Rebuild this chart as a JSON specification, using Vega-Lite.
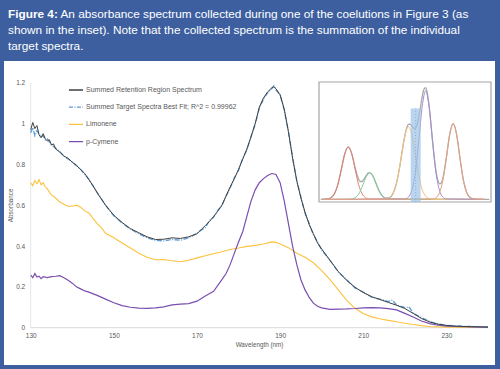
{
  "$schema": "https://vega.github.io/schema/vega-lite/v6.json",
  "width": 491,
  "height": 304,
  "autosize": {"type": "none"},
  "padding": {"left": 4, "top": 61, "right": 5, "bottom": 4},
  "background": "#3d5f9f",
  "config": {
    "view": {"fill": "#ffffff", "stroke": null},
    "font": "Liberation Sans",
    "legend": {
      "orient": "none", "legendX": 64, "legendY": 21, "title": null,
      "symbolType": "stroke", "symbolSize": 200, "symbolStrokeWidth": 1.3,
      "labelFontSize": 7, "labelColor": "#595959", "labelFont": "Liberation Sans",
      "rowPadding": 6.2, "labelOffset": 2, "padding": 0
    }
  },
  "title": {
    "text": "Figure 4:",
    "subtitle": [
      "\u200b\u00a0\u00a0\u00a0\u00a0\u00a0\u00a0\u00a0\u00a0\u00a0\u00a0\u00a0\u00a0\u00a0\u00a0\u00a0\u00a0An absorbance spectrum collected during one of the coelutions in Figure 3 (as",
      "shown in the inset). Note that the collected spectrum is the summation of the individual",
      "target spectra."
    ],
    "anchor": "start", "frame": "group", "orient": "top",
    "color": "#ffffff", "subtitleColor": "#ffffff",
    "font": "Liberation Sans",
    "subtitleFont": "Liberation Sans",
    "fontSize": 11.8, "subtitleFontSize": 11.8,
    "fontWeight": "bold", "subtitleFontWeight": "normal",
    "subtitleLineHeight": 16, "subtitlePadding": -11.8,
    "offset": 8, "dx": 4
  },
  "datasets": {
    "retention": [
      {"nm":130,"abs":0.97},{"nm":130.5,"abs":1.005},{"nm":131,"abs":0.975},{"nm":131.5,"abs":0.99},{"nm":132,"abs":0.945},{"nm":132.5,"abs":0.93},{"nm":133,"abs":0.95},{"nm":133.5,"abs":0.925},{"nm":134,"abs":0.915},{"nm":134.5,"abs":0.92},{"nm":135,"abs":0.895},{"nm":135.5,"abs":0.9},{"nm":136,"abs":0.875},{"nm":137,"abs":0.86},{"nm":138,"abs":0.84},{"nm":139,"abs":0.83},{"nm":140,"abs":0.81},{"nm":141,"abs":0.795},{"nm":142,"abs":0.775},{"nm":143,"abs":0.755},{"nm":144,"abs":0.725},{"nm":145,"abs":0.695},{"nm":146,"abs":0.66},{"nm":147,"abs":0.63},{"nm":148,"abs":0.6},{"nm":149,"abs":0.575},{"nm":150,"abs":0.55},{"nm":152,"abs":0.515},{"nm":154,"abs":0.485},{"nm":156,"abs":0.465},{"nm":158,"abs":0.445},{"nm":160,"abs":0.432},{"nm":162,"abs":0.433},{"nm":164,"abs":0.44},{"nm":166,"abs":0.437},{"nm":168,"abs":0.445},{"nm":170,"abs":0.46},{"nm":171,"abs":0.48},{"nm":172,"abs":0.5},{"nm":173,"abs":0.52},{"nm":174,"abs":0.545},{"nm":175,"abs":0.57},{"nm":176,"abs":0.6},{"nm":177,"abs":0.645},{"nm":178,"abs":0.69},{"nm":179,"abs":0.73},{"nm":180,"abs":0.775},{"nm":181,"abs":0.825},{"nm":182,"abs":0.875},{"nm":183,"abs":0.935},{"nm":184,"abs":1.0},{"nm":185,"abs":1.08},{"nm":186,"abs":1.125},{"nm":187,"abs":1.155},{"nm":188,"abs":1.175},{"nm":188.5,"abs":1.18},{"nm":189,"abs":1.17},{"nm":190,"abs":1.14},{"nm":191,"abs":1.07},{"nm":192,"abs":0.96},{"nm":193,"abs":0.83},{"nm":194,"abs":0.72},{"nm":195,"abs":0.635},{"nm":196,"abs":0.565},{"nm":197,"abs":0.505},{"nm":198,"abs":0.46},{"nm":199,"abs":0.415},{"nm":200,"abs":0.385},{"nm":202,"abs":0.33},{"nm":204,"abs":0.275},{"nm":206,"abs":0.232},{"nm":208,"abs":0.198},{"nm":210,"abs":0.172},{"nm":212,"abs":0.152},{"nm":214,"abs":0.138},{"nm":216,"abs":0.124},{"nm":218,"abs":0.11},{"nm":220,"abs":0.094},{"nm":222,"abs":0.07},{"nm":224,"abs":0.045},{"nm":226,"abs":0.028},{"nm":228,"abs":0.017},{"nm":230,"abs":0.011},{"nm":232,"abs":0.008},{"nm":234,"abs":0.006},{"nm":236,"abs":0.005},{"nm":238,"abs":0.004},{"nm":240,"abs":0.003}
    ],
    "fit": [
      {"nm":130,"abs":0.955},{"nm":130.5,"abs":0.98},{"nm":131,"abs":0.94},{"nm":131.5,"abs":0.965},{"nm":132,"abs":0.95},{"nm":132.5,"abs":0.935},{"nm":133,"abs":0.94},{"nm":133.5,"abs":0.92},{"nm":134,"abs":0.925},{"nm":135,"abs":0.895},{"nm":136,"abs":0.88},{"nm":137,"abs":0.862},{"nm":138,"abs":0.84},{"nm":140,"abs":0.812},{"nm":142,"abs":0.775},{"nm":144,"abs":0.727},{"nm":146,"abs":0.662},{"nm":148,"abs":0.6},{"nm":150,"abs":0.548},{"nm":152,"abs":0.512},{"nm":154,"abs":0.483},{"nm":156,"abs":0.46},{"nm":158,"abs":0.44},{"nm":160,"abs":0.428},{"nm":162,"abs":0.425},{"nm":164,"abs":0.432},{"nm":166,"abs":0.428},{"nm":168,"abs":0.44},{"nm":170,"abs":0.462},{"nm":171,"abs":0.478},{"nm":172,"abs":0.49},{"nm":173,"abs":0.525},{"nm":174,"abs":0.54},{"nm":175,"abs":0.575},{"nm":176,"abs":0.598},{"nm":177,"abs":0.645},{"nm":178,"abs":0.685},{"nm":179,"abs":0.735},{"nm":180,"abs":0.77},{"nm":181,"abs":0.83},{"nm":182,"abs":0.87},{"nm":183,"abs":0.935},{"nm":184,"abs":0.995},{"nm":185,"abs":1.075},{"nm":186,"abs":1.12},{"nm":187,"abs":1.15},{"nm":188,"abs":1.17},{"nm":188.5,"abs":1.185},{"nm":189,"abs":1.165},{"nm":190,"abs":1.14},{"nm":191,"abs":1.065},{"nm":192,"abs":0.96},{"nm":193,"abs":0.835},{"nm":194,"abs":0.72},{"nm":195,"abs":0.64},{"nm":196,"abs":0.56},{"nm":197,"abs":0.51},{"nm":198,"abs":0.455},{"nm":199,"abs":0.42},{"nm":200,"abs":0.38},{"nm":202,"abs":0.33},{"nm":204,"abs":0.272},{"nm":206,"abs":0.235},{"nm":208,"abs":0.195},{"nm":210,"abs":0.175},{"nm":212,"abs":0.15},{"nm":214,"abs":0.14},{"nm":216,"abs":0.128},{"nm":217,"abs":0.135},{"nm":218,"abs":0.112},{"nm":220,"abs":0.098},{"nm":221,"abs":0.102},{"nm":222,"abs":0.072},{"nm":223,"abs":0.06},{"nm":224,"abs":0.05},{"nm":225,"abs":0.04},{"nm":226,"abs":0.03},{"nm":228,"abs":0.018},{"nm":230,"abs":0.012},{"nm":232,"abs":0.009},{"nm":234,"abs":0.007},{"nm":236,"abs":0.006},{"nm":238,"abs":0.005},{"nm":240,"abs":0.004}
    ],
    "limonene": [
      {"nm":130,"abs":0.71},{"nm":130.5,"abs":0.695},{"nm":131,"abs":0.72},{"nm":131.5,"abs":0.705},{"nm":132,"abs":0.725},{"nm":132.5,"abs":0.7},{"nm":133,"abs":0.71},{"nm":133.5,"abs":0.69},{"nm":134,"abs":0.68},{"nm":135,"abs":0.65},{"nm":136,"abs":0.635},{"nm":137,"abs":0.615},{"nm":138,"abs":0.605},{"nm":139,"abs":0.595},{"nm":140,"abs":0.595},{"nm":141,"abs":0.6},{"nm":142,"abs":0.59},{"nm":143,"abs":0.572},{"nm":144,"abs":0.562},{"nm":145,"abs":0.535},{"nm":146,"abs":0.51},{"nm":147,"abs":0.49},{"nm":148,"abs":0.462},{"nm":150,"abs":0.44},{"nm":152,"abs":0.415},{"nm":154,"abs":0.39},{"nm":156,"abs":0.365},{"nm":158,"abs":0.345},{"nm":160,"abs":0.333},{"nm":162,"abs":0.334},{"nm":164,"abs":0.328},{"nm":166,"abs":0.323},{"nm":168,"abs":0.33},{"nm":170,"abs":0.342},{"nm":172,"abs":0.352},{"nm":174,"abs":0.362},{"nm":176,"abs":0.372},{"nm":178,"abs":0.383},{"nm":180,"abs":0.39},{"nm":182,"abs":0.398},{"nm":184,"abs":0.403},{"nm":186,"abs":0.41},{"nm":188,"abs":0.42},{"nm":189,"abs":0.418},{"nm":190,"abs":0.41},{"nm":192,"abs":0.392},{"nm":194,"abs":0.365},{"nm":196,"abs":0.345},{"nm":198,"abs":0.318},{"nm":200,"abs":0.28},{"nm":202,"abs":0.235},{"nm":204,"abs":0.185},{"nm":206,"abs":0.135},{"nm":208,"abs":0.095},{"nm":210,"abs":0.07},{"nm":212,"abs":0.053},{"nm":214,"abs":0.044},{"nm":216,"abs":0.036},{"nm":218,"abs":0.029},{"nm":220,"abs":0.022},{"nm":222,"abs":0.016},{"nm":224,"abs":0.01},{"nm":226,"abs":0.006},{"nm":228,"abs":0.004},{"nm":230,"abs":0.003},{"nm":235,"abs":0.002},{"nm":240,"abs":0.002}
    ],
    "cymene": [
      {"nm":130,"abs":0.258},{"nm":130.5,"abs":0.245},{"nm":131,"abs":0.265},{"nm":131.5,"abs":0.248},{"nm":132,"abs":0.252},{"nm":132.5,"abs":0.24},{"nm":133,"abs":0.25},{"nm":134,"abs":0.245},{"nm":135,"abs":0.25},{"nm":136,"abs":0.252},{"nm":137,"abs":0.255},{"nm":138,"abs":0.245},{"nm":139,"abs":0.232},{"nm":140,"abs":0.218},{"nm":141,"abs":0.2},{"nm":142,"abs":0.19},{"nm":143,"abs":0.18},{"nm":144,"abs":0.174},{"nm":146,"abs":0.158},{"nm":148,"abs":0.14},{"nm":150,"abs":0.122},{"nm":152,"abs":0.108},{"nm":154,"abs":0.1},{"nm":156,"abs":0.096},{"nm":158,"abs":0.095},{"nm":160,"abs":0.097},{"nm":162,"abs":0.102},{"nm":164,"abs":0.112},{"nm":166,"abs":0.115},{"nm":168,"abs":0.118},{"nm":170,"abs":0.13},{"nm":172,"abs":0.155},{"nm":174,"abs":0.178},{"nm":176,"abs":0.235},{"nm":177,"abs":0.265},{"nm":178,"abs":0.31},{"nm":179,"abs":0.365},{"nm":180,"abs":0.42},{"nm":181,"abs":0.47},{"nm":182,"abs":0.545},{"nm":183,"abs":0.62},{"nm":184,"abs":0.675},{"nm":185,"abs":0.71},{"nm":186,"abs":0.73},{"nm":187,"abs":0.745},{"nm":188,"abs":0.755},{"nm":189,"abs":0.75},{"nm":190,"abs":0.71},{"nm":191,"abs":0.62},{"nm":192,"abs":0.51},{"nm":193,"abs":0.4},{"nm":194,"abs":0.31},{"nm":195,"abs":0.235},{"nm":196,"abs":0.185},{"nm":197,"abs":0.148},{"nm":198,"abs":0.12},{"nm":199,"abs":0.105},{"nm":200,"abs":0.097},{"nm":202,"abs":0.09},{"nm":204,"abs":0.091},{"nm":206,"abs":0.092},{"nm":208,"abs":0.094},{"nm":210,"abs":0.097},{"nm":212,"abs":0.098},{"nm":214,"abs":0.097},{"nm":216,"abs":0.093},{"nm":218,"abs":0.087},{"nm":220,"abs":0.07},{"nm":222,"abs":0.052},{"nm":224,"abs":0.033},{"nm":226,"abs":0.02},{"nm":228,"abs":0.012},{"nm":230,"abs":0.008},{"nm":232,"abs":0.006},{"nm":236,"abs":0.004},{"nm":240,"abs":0.003}
    ],
    "insetPeaks": [
      {"peak":"a","t":2,"s":0.022},{"peak":"a","t":5,"s":0.025},{"peak":"a","t":7,"s":0.036},{"peak":"a","t":9,"s":0.07},{"peak":"a","t":11,"s":0.147},{"peak":"a","t":13,"s":0.273},{"peak":"a","t":15,"s":0.402},{"peak":"a","t":17,"s":0.458},{"peak":"a","t":19,"s":0.402},{"peak":"a","t":21,"s":0.273},{"peak":"a","t":23,"s":0.147},{"peak":"a","t":25,"s":0.07},{"peak":"a","t":27,"s":0.036},{"peak":"a","t":29,"s":0.025},{"peak":"a","t":96,"s":0.022},
      {"peak":"b","t":2,"s":0.022},{"peak":"b","t":17.5,"s":0.023},{"peak":"b","t":19.5,"s":0.027},{"peak":"b","t":21.5,"s":0.041},{"peak":"b","t":23.5,"s":0.077},{"peak":"b","t":25.5,"s":0.142},{"peak":"b","t":27.5,"s":0.212},{"peak":"b","t":29.5,"s":0.244},{"peak":"b","t":31.5,"s":0.212},{"peak":"b","t":33.5,"s":0.142},{"peak":"b","t":35.5,"s":0.077},{"peak":"b","t":37.5,"s":0.041},{"peak":"b","t":39.5,"s":0.027},{"peak":"b","t":41.5,"s":0.023},{"peak":"b","t":96,"s":0.022},
      {"peak":"c","t":2,"s":0.022},{"peak":"c","t":38,"s":0.023},{"peak":"c","t":40,"s":0.029},{"peak":"c","t":42,"s":0.049},{"peak":"c","t":44,"s":0.104},{"peak":"c","t":46,"s":0.219},{"peak":"c","t":48,"s":0.39},{"peak":"c","t":50,"s":0.557},{"peak":"c","t":52,"s":0.628},{"peak":"c","t":54,"s":0.557},{"peak":"c","t":56,"s":0.39},{"peak":"c","t":58,"s":0.219},{"peak":"c","t":60,"s":0.104},{"peak":"c","t":62,"s":0.049},{"peak":"c","t":64,"s":0.029},{"peak":"c","t":66,"s":0.023},{"peak":"c","t":96,"s":0.022},
      {"peak":"d","t":2,"s":0.022},{"peak":"d","t":50,"s":0.026},{"peak":"d","t":52,"s":0.041},{"peak":"d","t":54,"s":0.099},{"peak":"d","t":56,"s":0.247},{"peak":"d","t":58,"s":0.509},{"peak":"d","t":60,"s":0.796},{"peak":"d","t":62,"s":0.925},{"peak":"d","t":64,"s":0.796},{"peak":"d","t":66,"s":0.509},{"peak":"d","t":68,"s":0.247},{"peak":"d","t":70,"s":0.099},{"peak":"d","t":72,"s":0.041},{"peak":"d","t":74,"s":0.026},{"peak":"d","t":96,"s":0.022},
      {"peak":"e","t":2,"s":0.022},{"peak":"e","t":66,"s":0.025},{"peak":"e","t":68,"s":0.035},{"peak":"e","t":70,"s":0.075},{"peak":"e","t":72,"s":0.179},{"peak":"e","t":74,"s":0.362},{"peak":"e","t":76,"s":0.563},{"peak":"e","t":78,"s":0.653},{"peak":"e","t":80,"s":0.563},{"peak":"e","t":82,"s":0.362},{"peak":"e","t":84,"s":0.179},{"peak":"e","t":86,"s":0.075},{"peak":"e","t":88,"s":0.035},{"peak":"e","t":90,"s":0.025},{"peak":"e","t":96,"s":0.022}
    ],
    "insetSum": [
      {"t":1,"s":0.022},{"t":5,"s":0.025},{"t":7,"s":0.036},{"t":9,"s":0.07},{"t":11,"s":0.147},{"t":13,"s":0.273},{"t":15,"s":0.402},{"t":17,"s":0.459},{"t":19,"s":0.405},{"t":21,"s":0.287},{"t":23,"s":0.191},{"t":24,"s":0.171},{"t":25,"s":0.171},{"t":26,"s":0.186},{"t":27,"s":0.21},{"t":29,"s":0.245},{"t":31,"s":0.226},{"t":33,"s":0.16},{"t":35,"s":0.091},{"t":37,"s":0.047},{"t":39,"s":0.032},{"t":41,"s":0.036},{"t":43,"s":0.07},{"t":45,"s":0.153},{"t":47,"s":0.3},{"t":49,"s":0.481},{"t":51,"s":0.618},{"t":52,"s":0.647},{"t":53,"s":0.649},{"t":54,"s":0.633},{"t":55,"s":0.616},{"t":56,"s":0.614},{"t":57,"s":0.644},{"t":58,"s":0.706},{"t":59,"s":0.791},{"t":60,"s":0.878},{"t":61,"s":0.939},{"t":62,"s":0.952},{"t":63,"s":0.905},{"t":64,"s":0.803},{"t":65,"s":0.663},{"t":66,"s":0.511},{"t":68,"s":0.26},{"t":69,"s":0.186},{"t":70,"s":0.152},{"t":71,"s":0.157},{"t":72,"s":0.198},{"t":74,"s":0.366},{"t":76,"s":0.563},{"t":78,"s":0.653},{"t":80,"s":0.563},{"t":82,"s":0.362},{"t":84,"s":0.179},{"t":86,"s":0.075},{"t":88,"s":0.035},{"t":90,"s":0.025},{"t":92,"s":0.022},{"t":99,"s":0.022}
    ]
  },
  "layer": [
    {
      "encoding": {
        "x": {"field": "nm", "type": "quantitative",
          "scale": {"domain": [123.58, 241.69], "nice": false, "zero": false},
          "axis": {"values": [130, 150, 170, 190, 210, 230], "offset": -37.3, "domain": false, "ticks": false, "grid": false,
            "labelFontSize": 6.5, "labelColor": "#595959", "labelPadding": 5, "labelOverlap": false,
            "title": "Wavelength (nm)", "titleFontSize": 6.3, "titleFontWeight": "normal", "titleColor": "#595959",
            "titlePadding": 2, "titleX": 255}},
        "y": {"field": "abs", "type": "quantitative",
          "scale": {"domain": [-0.1827, 1.306], "nice": false, "zero": false},
          "axis": {"values": [0, 0.2, 0.4, 0.6, 0.8, 1, 1.2], "format": "~g", "offset": -26.7, "domain": false, "ticks": false, "grid": false,
            "labelFontSize": 6.5, "labelColor": "#595959", "labelPadding": 6, "labelOverlap": false,
            "title": "Absorbance", "titleFontSize": 6.3, "titleFontWeight": "normal", "titleColor": "#595959",
            "titlePadding": 2, "titleY": 144}}
      },
      "layer": [
        {"data": {"values": [{"nm": 130, "nm2": 240, "abs": 0}]},
         "mark": {"type": "rule", "color": "#d9d9d9", "strokeWidth": 1},
         "encoding": {"x2": {"field": "nm2"}}},
        {"data": {"values": [{"nm": 130, "abs": 0, "abs2": 1.2}]},
         "mark": {"type": "rule", "color": "#e6e6e6", "strokeWidth": 1},
         "encoding": {"y2": {"field": "abs2"}}},
        {"data": {"name": "limonene"},
         "mark": {"type": "line", "strokeWidth": 1.1},
         "encoding": {"color": {"datum": "Limonene", "type": "nominal",
           "scale": {"domain": ["Summed Retention Region Spectrum", "Summed Target Spectra Best Fit; R^2 = 0.99962", "Limonene", "p-Cymene"], "range": ["#404040", "#5b9bd5", "#fcc23e", "#7a4fb0"]}}}},
        {"data": {"name": "cymene"},
         "mark": {"type": "line", "strokeWidth": 1.2},
         "encoding": {"color": {"datum": "p-Cymene", "type": "nominal",
           "scale": {"domain": ["Summed Retention Region Spectrum", "Summed Target Spectra Best Fit; R^2 = 0.99962", "Limonene", "p-Cymene"], "range": ["#404040", "#5b9bd5", "#fcc23e", "#7a4fb0"]}}}},
        {"data": {"name": "fit"},
         "mark": {"type": "line", "strokeWidth": 1.3, "strokeDash": [5, 1.5, 1, 1.5]},
         "encoding": {"color": {"datum": "Summed Target Spectra Best Fit; R^2 = 0.99962", "type": "nominal",
           "scale": {"domain": ["Summed Retention Region Spectrum", "Summed Target Spectra Best Fit; R^2 = 0.99962", "Limonene", "p-Cymene"], "range": ["#404040", "#5b9bd5", "#fcc23e", "#7a4fb0"]}}}},
        {"data": {"name": "retention"},
         "mark": {"type": "line", "strokeWidth": 1},
         "encoding": {"color": {"datum": "Summed Retention Region Spectrum", "type": "nominal",
           "scale": {"domain": ["Summed Retention Region Spectrum", "Summed Target Spectra Best Fit; R^2 = 0.99962", "Limonene", "p-Cymene"], "range": ["#404040", "#5b9bd5", "#fcc23e", "#7a4fb0"]},
           "legend": {"encode": {"symbols": {"update": {"strokeDash": {"signal": "indexof(datum.value, 'Best Fit') >= 0 ? [4, 1.5, 1, 1.5] : [1, 0]"}}}}}}}}
      ]
    },
    {
      "encoding": {
        "x": {"field": "t", "type": "quantitative", "scale": {"domain": [0, 100], "range": [315, 487], "nice": false, "zero": false}, "axis": null},
        "y": {"field": "s", "type": "quantitative", "scale": {"domain": [0, 1], "range": [141, 21], "nice": false, "zero": false}, "axis": null}
      },
      "layer": [
        {"data": {"values": [{"t": 0, "t2": 100, "s": 0, "s2": 1}]},
         "mark": {"type": "rect", "fill": "#ffffff", "stroke": "#a6a6a6", "strokeWidth": 1.2},
         "encoding": {"x2": {"field": "t2"}, "y2": {"field": "s2"}}},
        {"data": {"name": "insetSum"},
         "mark": {"type": "line", "color": "#a9a9a9", "strokeWidth": 1.3, "interpolate": "monotone"}},
        {"data": {"name": "insetPeaks"},
         "mark": {"type": "line", "strokeWidth": 1, "interpolate": "monotone"},
         "encoding": {"color": {"field": "peak", "type": "nominal", "legend": null,
           "scale": {"domain": ["a", "b", "c", "d", "e"], "range": ["#e3806d", "#80cc9a", "#f5c47a", "#a48ed2", "#e9a27f"]}}}},
        {"data": {"values": [{"t": 53.3, "t2": 59.1, "s": 0, "s2": 0.78}]},
         "mark": {"type": "rect", "fill": "#9dc3e6", "opacity": 0.7},
         "encoding": {"x2": {"field": "t2"}, "y2": {"field": "s2"}}},
        {"data": {"values": [{"t": 56.2, "s": 0, "s2": 0.78}]},
         "mark": {"type": "rule", "color": "#7fa9d8", "strokeWidth": 0.8, "strokeDash": [1, 2]},
         "encoding": {"y2": {"field": "s2"}}}
      ]
    }
  ],
  "resolve": {"scale": {"x": "independent", "y": "independent", "color": "independent"}}
}
